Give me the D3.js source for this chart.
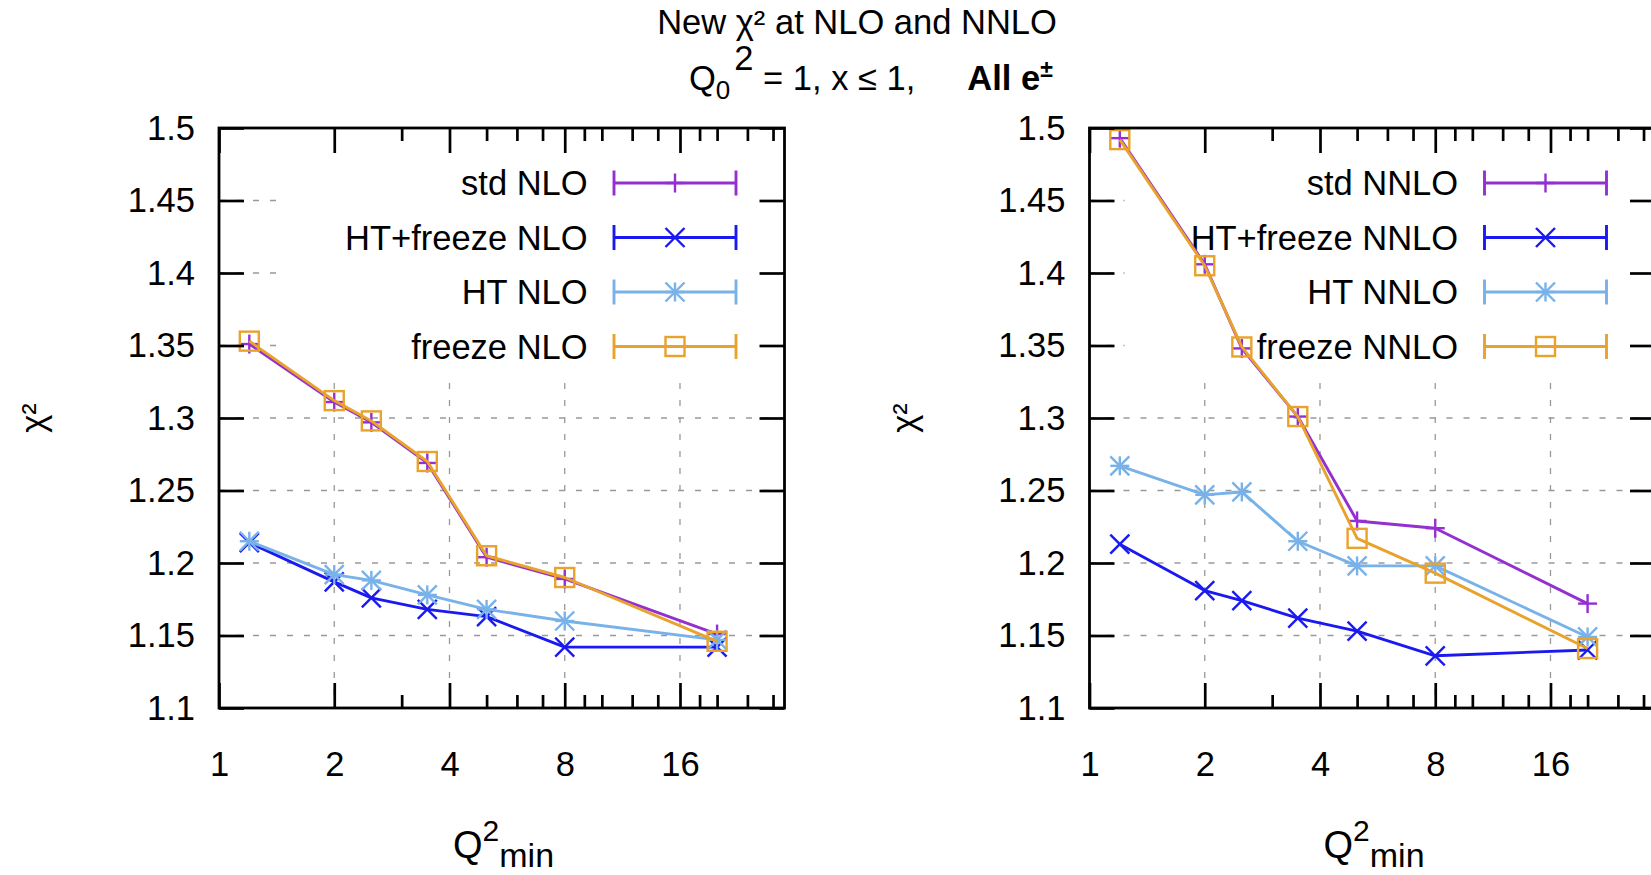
<!DOCTYPE html>
<html lang="en">
<head>
<meta charset="UTF-8" />
<script src="https://cdnjs.cloudflare.com/ajax/libs/d3/7.8.5/d3.min.js"></script>
<title>New chi2 at NLO and NNLO</title>
<style>
body { margin: 0; background: #fff; }
svg { display: block; font-family: "Liberation Sans", Arial, sans-serif; }
</style>
</head>
<body>
<svg id="chart" width="1651" height="875"></svg>
<script>

// Q^2_min cuts (x positions)
const q2min = [1.2, 2, 2.5, 3.5, 5, 8, 20];

// chi^2 per point, NLO panel
const nloStd      = [1.351, 1.311, 1.297, 1.269, 1.204, 1.189, 1.151];
const nloHTfreeze = [1.214, 1.187, 1.176, 1.168, 1.163, 1.142, 1.142];
const nloHT       = [1.215, 1.192, 1.188, 1.178, 1.168, 1.160, 1.147];
const nloFreeze   = [1.353, 1.312, 1.298, 1.270, 1.205, 1.190, 1.146];

// chi^2 per point, NNLO panel
const nnloStd      = [1.493, 1.406, 1.348, 1.301, 1.229, 1.224, 1.172];
const nnloHTfreeze = [1.213, 1.181, 1.174, 1.162, 1.153, 1.136, 1.140];
const nnloHT       = [1.267, 1.247, 1.249, 1.215, 1.198, 1.198, 1.149];
const nnloFreeze   = [1.492, 1.405, 1.349, 1.301, 1.217, 1.193, 1.141];

const seriesNames = ['std', 'HT+freeze', 'HT', 'freeze'];
const seriesColors = ['#9430d0', '#1a1af0', '#78b2e8', '#e9a22c'];
const seriesMarkers = ['plus', 'cross', 'star', 'square'];

const xTicks = [1, 2, 4, 8, 16];
const xMinorTicks = [3, 5, 6, 7, 9, 10, 12, 14, 18, 20, 24, 28];
const yTicks = [1.1, 1.15, 1.2, 1.25, 1.3, 1.35, 1.4, 1.45, 1.5];

const panels = [
  { left: 219, order: 'NLO', values: [nloStd, nloHTfreeze, nloHT, nloFreeze] },
  { left: 1089.5, order: 'NNLO', values: [nnloStd, nnloHTfreeze, nnloHT, nnloFreeze] }
];

const svg = d3.select('#chart');
const plotW = 565.5, plotTop = 128, plotBottom = 708;
const fontSize = 34.5;
const lineW = 2.9;

function drawMarker(g, type, cx, cy, color) {
  const s = 9.5;
  const line = (x1, y1, x2, y2) => g.append('line')
    .attr('x1', cx + x1).attr('y1', cy + y1).attr('x2', cx + x2).attr('y2', cy + y2)
    .style('stroke', color).style('stroke-width', 2.4);
  if (type === 'plus' || type === 'star') {
    line(-s, 0, s, 0);
    line(0, -s, 0, s);
  }
  if (type === 'cross' || type === 'star') {
    line(-s, -s, s, s);
    line(-s, s, s, -s);
  }
  if (type === 'square') {
    g.append('rect')
      .attr('x', cx - s).attr('y', cy - s).attr('width', 2 * s).attr('height', 2 * s)
      .style('fill', 'none').style('stroke', color).style('stroke-width', 2.4);
  }
}

function styleAxis(g) {
  g.select('.domain').remove();
  g.selectAll('line').style('stroke', '#000').style('stroke-width', 2.7);
  g.selectAll('text')
    .style('font-family', '"Liberation Sans", Arial, sans-serif')
    .style('font-size', fontSize + 'px')
    .style('fill', '#000');
}

panels.forEach(p => {
  const x = d3.scaleLog().base(2).domain([1, 30]).range([p.left, p.left + plotW]);
  const y = d3.scaleLinear().domain([1.1, 1.5]).range([plotBottom, plotTop]);
  const g = svg.append('g');

  // grid
  const grid = g.append('g')
    .style('stroke', '#999').style('stroke-width', 1.3).style('stroke-dasharray', '6,11');
  grid.selectAll('.gy').data(yTicks.slice(1, -1)).enter().append('line')
    .attr('x1', x.range()[0]).attr('x2', x.range()[1])
    .attr('y1', d => y(d)).attr('y2', d => y(d));
  grid.selectAll('.gx').data(xTicks.slice(1)).enter().append('line')
    .attr('x1', d => x(d)).attr('x2', d => x(d))
    .attr('y1', plotTop).attr('y2', plotBottom);

  // opaque key box
  const labels = seriesNames.map(n => n + ' ' + p.order);
  const keyRight = p.left + 368.6;
  const probe = g.append('text').style('font-size', fontSize + 'px')
    .text(labels.reduce((a, b) => a.length > b.length ? a : b));
  const textW = probe.node().getComputedTextLength();
  probe.remove();
  g.append('rect')
    .attr('x', keyRight - textW - 66).attr('y', plotTop)
    .attr('width', x.range()[1] - (keyRight - textW - 66)).attr('height', 373 - plotTop)
    .style('fill', '#fff');

  // key entries
  const rowY = i => plotTop + 55 + i * 54.5;
  labels.forEach((lab, i) => {
    const c = seriesColors[i];
    g.append('text')
      .attr('x', keyRight).attr('y', rowY(i)).attr('dy', '0.35em')
      .attr('text-anchor', 'end')
      .style('font-size', fontSize + 'px').style('fill', '#000')
      .text(lab);
    const x1 = p.left + 395, x2 = p.left + 517, ry = rowY(i);
    [[x1, ry, x2, ry], [x1, ry - 12.5, x1, ry + 12.5], [x2, ry - 12.5, x2, ry + 12.5]].forEach(l => {
      g.append('line')
        .attr('x1', l[0]).attr('y1', l[1]).attr('x2', l[2]).attr('y2', l[3])
        .style('stroke', c).style('stroke-width', lineW);
    });
    drawMarker(g, seriesMarkers[i], (x1 + x2) / 2, ry, c);
  });

  // data
  const lineFn = d3.line().x(d => x(d[0])).y(d => y(d[1]));
  p.values.forEach((vals, i) => {
    const pts = q2min.map((q, k) => [q, vals[k]]);
    const sg = g.append('g');
    sg.append('path')
      .attr('d', lineFn(pts))
      .style('fill', 'none').style('stroke', seriesColors[i]).style('stroke-width', lineW)
      .style('stroke-linejoin', 'round');
    pts.forEach(pt => drawMarker(sg, seriesMarkers[i], x(pt[0]), y(pt[1]), seriesColors[i]));
  });

  // axes: major ticks inward on all four sides
  g.append('g').attr('transform', `translate(0,${plotBottom})`)
    .call(d3.axisBottom(x).tickValues(xTicks).tickFormat(d3.format('d')).tickSize(-25).tickPadding(44))
    .call(styleAxis);
  g.append('g').attr('transform', `translate(0,${plotBottom})`)
    .call(d3.axisBottom(x).tickValues(xMinorTicks).tickFormat('').tickSize(-13))
    .call(styleAxis);
  g.append('g').attr('transform', `translate(0,${plotTop})`)
    .call(d3.axisTop(x).tickValues(xTicks).tickFormat('').tickSize(-25))
    .call(styleAxis);
  g.append('g').attr('transform', `translate(0,${plotTop})`)
    .call(d3.axisTop(x).tickValues(xMinorTicks).tickFormat('').tickSize(-13))
    .call(styleAxis);
  g.append('g').attr('transform', `translate(${x.range()[0]},0)`)
    .call(d3.axisLeft(y).tickValues(yTicks).tickFormat(d => String(+d.toFixed(2))).tickSize(-25).tickPadding(24))
    .call(styleAxis);
  g.append('g').attr('transform', `translate(${x.range()[1]},0)`)
    .call(d3.axisRight(y).tickValues(yTicks).tickFormat('').tickSize(-25))
    .call(styleAxis);

  // frame
  g.append('rect')
    .attr('x', x.range()[0]).attr('y', plotTop)
    .attr('width', plotW).attr('height', plotBottom - plotTop)
    .style('fill', 'none').style('stroke', '#000').style('stroke-width', 2.8);

  // axis titles
  g.append('text')
    .attr('transform', `translate(${p.left - 186},${(plotTop + plotBottom) / 2}) rotate(-90)`)
    .attr('text-anchor', 'middle').attr('dy', '0.35em')
    .style('font-size', fontSize + 'px')
    .text('χ²');
  const xl = g.append('text')
    .attr('x', p.left + 234).attr('y', 858);
  xl.append('tspan').style('font-size', '38px').text('Q');
  xl.append('tspan').style('font-size', '30px').attr('dy', -17).text('2');
  xl.append('tspan').style('font-size', '34px').attr('dy', 26).text('min');
});

// title
svg.append('text')
  .attr('x', 857).attr('y', 34).attr('text-anchor', 'middle')
  .style('font-size', fontSize + 'px')
  .text('New χ² at NLO and NNLO');
const t2 = svg.append('text').attr('x', 689).attr('y', 90)
  .style('font-size', fontSize + 'px');
t2.append('tspan').text('Q');
t2.append('tspan').style('font-size', '26px').attr('dy', 9).text('0');
t2.append('tspan').attr('dy', -29).attr('dx', 4).text('2');
t2.append('tspan').attr('dy', 20).text('\u00a0= 1, x \u2264 1,');
t2.append('tspan').attr('dx', 52).style('font-weight', 'bold').text('All e');
t2.append('tspan').attr('dy', -13).style('font-weight', 'bold').style('font-size', '23px').text('±');

</script>
</body>
</html>
